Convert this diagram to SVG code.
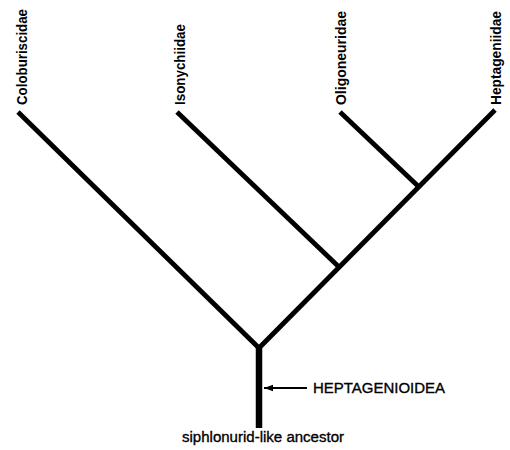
<svg xmlns="http://www.w3.org/2000/svg" width="510" height="450" viewBox="0 0 510 450">
<style>
.br{stroke:#000;stroke-width:4.8;fill:none;stroke-linecap:butt;stroke-linejoin:miter}
.tr{stroke:#000;stroke-width:6.5;fill:none}
.tx{font-family:"Liberation Sans",Arial,sans-serif;font-weight:bold;font-size:14.5px;fill:#000}
.lb{font-family:"Liberation Sans",Arial,sans-serif;font-size:15.5px;fill:#000;stroke:#000;stroke-width:0.35}
</style>
<defs>
<marker id="ah" markerWidth="10" markerHeight="8" refX="9" refY="4" orient="auto" markerUnits="userSpaceOnUse">
<path d="M0,0.8 L9,4 L0,7.2 Z" fill="#000"/>
</marker>
</defs>
<rect width="510" height="450" fill="#fff"/>
<g id="connectors">
<polyline class="br" points="18,112 259,348 495,110"/>
<line class="br" x1="177" y1="112" x2="339" y2="267"/>
<line class="br" x1="340" y1="112" x2="419" y2="187"/>
<line class="tr" x1="259" y1="346" x2="259" y2="428"/>
<line x1="307" y1="388" x2="264" y2="388" stroke="#000" stroke-width="2" marker-end="url(#ah)"/>
</g>
<g id="n-coloburiscidae"><text class="tx" style="font-size:14px" transform="translate(26.5,105) rotate(-90)" textLength="96" lengthAdjust="spacingAndGlyphs">Coloburiscidae</text></g>
<g id="n-isonychiidae"><text class="tx" transform="translate(185,105) rotate(-90)" textLength="81" lengthAdjust="spacingAndGlyphs">Isonychiidae</text></g>
<g id="n-oligoneuridae"><text class="tx" transform="translate(346,105) rotate(-90)" textLength="94" lengthAdjust="spacingAndGlyphs">Oligoneuridae</text></g>
<g id="n-heptageniidae"><text class="tx" transform="translate(501,105) rotate(-90)" textLength="94" lengthAdjust="spacingAndGlyphs">Heptageniidae</text></g>
<g id="n-heptagenioidea"><text class="lb" x="313" y="393" textLength="132" lengthAdjust="spacingAndGlyphs">HEPTAGENIOIDEA</text></g>
<g id="n-ancestor"><text class="lb" x="182" y="442" textLength="162" lengthAdjust="spacingAndGlyphs">siphlonurid-like ancestor</text></g>
</svg>
